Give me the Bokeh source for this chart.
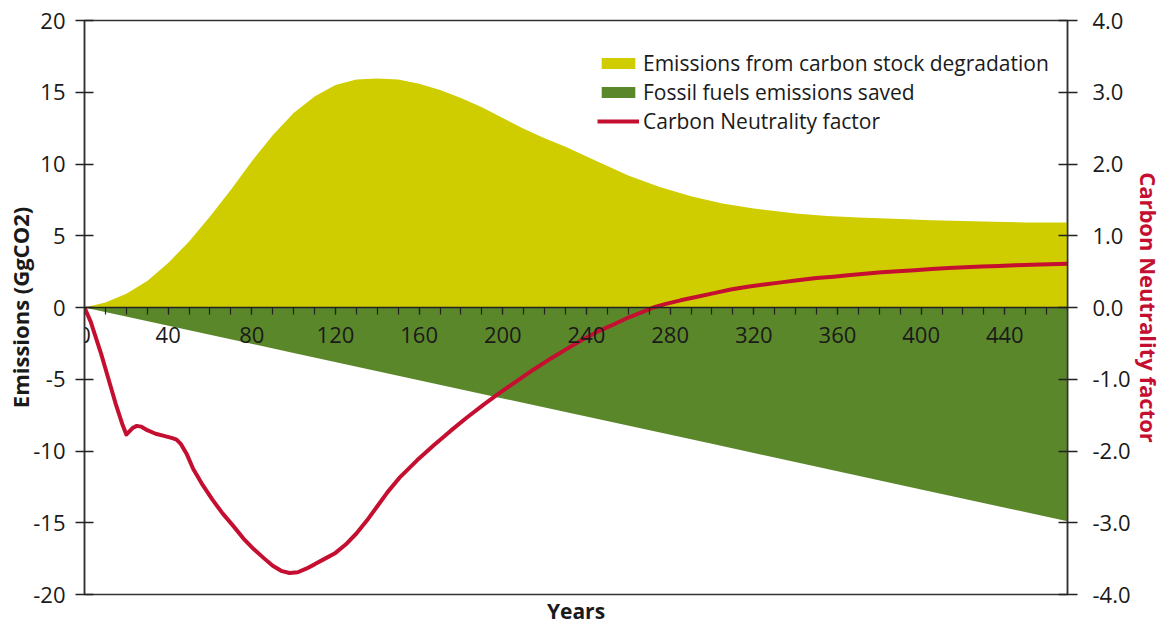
from bokeh.plotting import figure
from bokeh.models import (Range1d, LinearAxis, FixedTicker, NumeralTickFormatter,
                          Legend, LegendItem, Title)
from bokeh.embed import file_html
from bokeh.resources import INLINE

# ---------------- data ----------------
years_deg = [0, 10, 20, 30, 40, 50, 60, 70, 80, 90,
             100, 110, 120, 130, 140, 150, 160, 170, 180, 190, 200, 210, 220, 230,
             245, 260, 275, 290, 305, 320,
             340, 355, 370, 390, 405, 420, 435, 450, 470]
degradation = [0, 0.35, 0.95, 1.85, 3.1, 4.6, 6.35, 8.2, 10.2, 12.0,
               13.55, 14.7, 15.5, 15.88, 15.95, 15.88, 15.6, 15.15, 14.6, 13.95, 13.2, 12.45, 11.8, 11.2,
               10.2, 9.2, 8.4, 7.75, 7.25, 6.9,
               6.55, 6.38, 6.27, 6.16, 6.08, 6.02, 5.97, 5.93, 5.92]

years_saved = [0, 100, 200, 300, 400, 470]
fossil_saved = [0, -3.17, -6.34, -9.5, -12.68, -14.9]

years_cnf = [0, 3, 5, 8, 10, 13, 15, 18, 20, 21, 23, 25, 27, 30, 34, 38, 42, 44, 46, 49,
             52, 56, 61, 66, 71, 76, 81, 86, 90, 94, 98, 102, 106, 110, 115, 120, 125, 130,
             135, 140, 145, 151, 159, 167, 175, 183, 191, 199, 207, 215, 223, 231, 238, 245,
             252, 260, 266, 272, 278, 285, 293, 301, 309, 317, 325, 333, 341, 350, 358, 365,
             373, 381, 389, 397, 405, 413, 421, 429, 437, 445, 457, 470]
cnf = [0, -0.2, -0.38, -0.65, -0.85, -1.15, -1.35, -1.62, -1.77, -1.74, -1.68, -1.65, -1.66,
       -1.71, -1.76, -1.79, -1.82, -1.84, -1.9, -2.05,
       -2.25, -2.45, -2.67, -2.87, -3.04, -3.22, -3.37, -3.5, -3.6, -3.67, -3.70, -3.69, -3.64,
       -3.58, -3.5, -3.42, -3.3, -3.15,
       -2.97, -2.77, -2.57, -2.36, -2.13, -1.92, -1.72, -1.53, -1.35, -1.18, -1.02, -0.86, -0.71,
       -0.57, -0.45, -0.34,
       -0.25, -0.14, -0.07, 0.0, 0.05, 0.1, 0.15, 0.2, 0.25, 0.29, 0.32, 0.35, 0.38, 0.41, 0.43, 0.45,
       0.47, 0.49, 0.505, 0.52, 0.535, 0.55, 0.56, 0.57, 0.58, 0.59, 0.60, 0.61]

x_major = [0, 40, 80, 120, 160, 200, 240, 280, 320, 360, 400, 440]
x_minor = list(range(0, 471, 10))
left_ticks = [-20, -15, -10, -5, 0, 5, 10, 15, 20]
right_ticks = [-4, -3, -2, -1, 0, 1, 2, 3, 4]

labels = ["Emissions from carbon stock degradation",
          "Fossil fuels emissions saved",
          "Carbon Neutrality factor"]

YELLOW = "#CFCD00"
GREEN = "#5B872B"
RED = "#C40F30"
INK = "#1a1a1a"
FONT = "Open Sans"

p = figure(width=1166, height=627, output_backend="svg", toolbar_location=None,
           x_range=Range1d(0, 470), y_range=Range1d(-20, 20),
           min_border_left=84, min_border_right=99, min_border_top=20, min_border_bottom=33)
p.background_fill_color = "white"
p.border_fill_color = "white"
p.xgrid.visible = False
p.ygrid.visible = False
p.outline_line_color = "#333333"
p.outline_line_width = 1.5

p.extra_y_ranges = {"cnf": Range1d(-4, 4)}

r_green = p.varea(x=years_saved, y1=fossil_saved, y2=[0] * len(years_saved), fill_color=GREEN)
r_yellow = p.varea(x=years_deg, y1=[0] * len(years_deg), y2=degradation, fill_color=YELLOW)
r_red = p.line(x=years_cnf, y=cnf, y_range_name="cnf", line_color=RED, line_width=4,
               line_join="round")

# x axis drawn at y = 0
xa = p.xaxis[0]
xa.fixed_location = 0
xa.ticker = FixedTicker(ticks=x_major, minor_ticks=x_minor)
xa.major_tick_in = 0
xa.major_tick_out = 7
xa.minor_tick_in = 0
xa.minor_tick_out = 7
xa.axis_line_color = "#222222"
xa.axis_line_width = 1.5
xa.major_tick_line_color = "#222222"
xa.minor_tick_line_color = "#222222"
xa.major_tick_line_width = 1.2
xa.minor_tick_line_width = 1.2
xa.major_label_text_font = FONT
xa.major_label_text_font_size = "22px"
xa.major_label_text_color = INK
xa.major_label_standoff = 12

# left axis
ya = p.yaxis[0]
ya.ticker = FixedTicker(ticks=left_ticks)
ya.formatter = NumeralTickFormatter(format="0")
ya.minor_tick_line_color = None
ya.major_tick_in = 9
ya.major_tick_out = 9
ya.axis_line_color = "#333333"
ya.axis_line_width = 1.5
ya.major_tick_line_color = "#222222"
ya.major_tick_line_width = 1.5
ya.major_label_text_font = FONT
ya.major_label_text_font_size = "22px"
ya.major_label_text_color = INK
ya.major_label_standoff = 10
ya.axis_label = "Emissions (GgCO2)"
ya.axis_label_text_font = FONT
ya.axis_label_text_font_size = "22px"
ya.axis_label_text_font_style = "bold"
ya.axis_label_text_color = INK
ya.axis_label_standoff = -5

# right axis
ra = LinearAxis(y_range_name="cnf")
ra.ticker = FixedTicker(ticks=right_ticks)
ra.formatter = NumeralTickFormatter(format="0.0")
ra.minor_tick_line_color = None
ra.major_tick_in = 9
ra.major_tick_out = 10
ra.axis_line_color = "#333333"
ra.axis_line_width = 1.5
ra.major_tick_line_color = "#222222"
ra.major_tick_line_width = 1.5
ra.major_label_text_font = FONT
ra.major_label_text_font_size = "22px"
ra.major_label_text_color = INK
ra.major_label_standoff = 15
ra.axis_label = "Carbon Neutrality factor"
ra.axis_label_text_font = FONT
ra.axis_label_text_font_size = "22px"
ra.axis_label_text_font_style = "bold"
ra.axis_label_text_color = RED
ra.axis_label_standoff = 0
p.add_layout(ra, "right")

# x axis title, below the frame
p.add_layout(Title(text="Years", align="center", vertical_align="bottom", standoff=0,
                   text_font=FONT, text_font_size="21px", text_font_style="bold",
                   text_color=INK), "below")

legend = Legend(items=[LegendItem(label=labels[0], renderers=[r_yellow]),
                       LegendItem(label=labels[1], renderers=[r_green]),
                       LegendItem(label=labels[2], renderers=[r_red])],
                location=(513, 459), padding=0, margin=0, spacing=0,
                glyph_width=42, glyph_height=14, label_height=29, label_standoff=4,
                label_text_font=FONT, label_text_font_size="21px", label_text_color=INK,
                background_fill_alpha=0, border_line_color=None)
p.add_layout(legend, "center")

open("out.html", "w").write(file_html(p, INLINE))
